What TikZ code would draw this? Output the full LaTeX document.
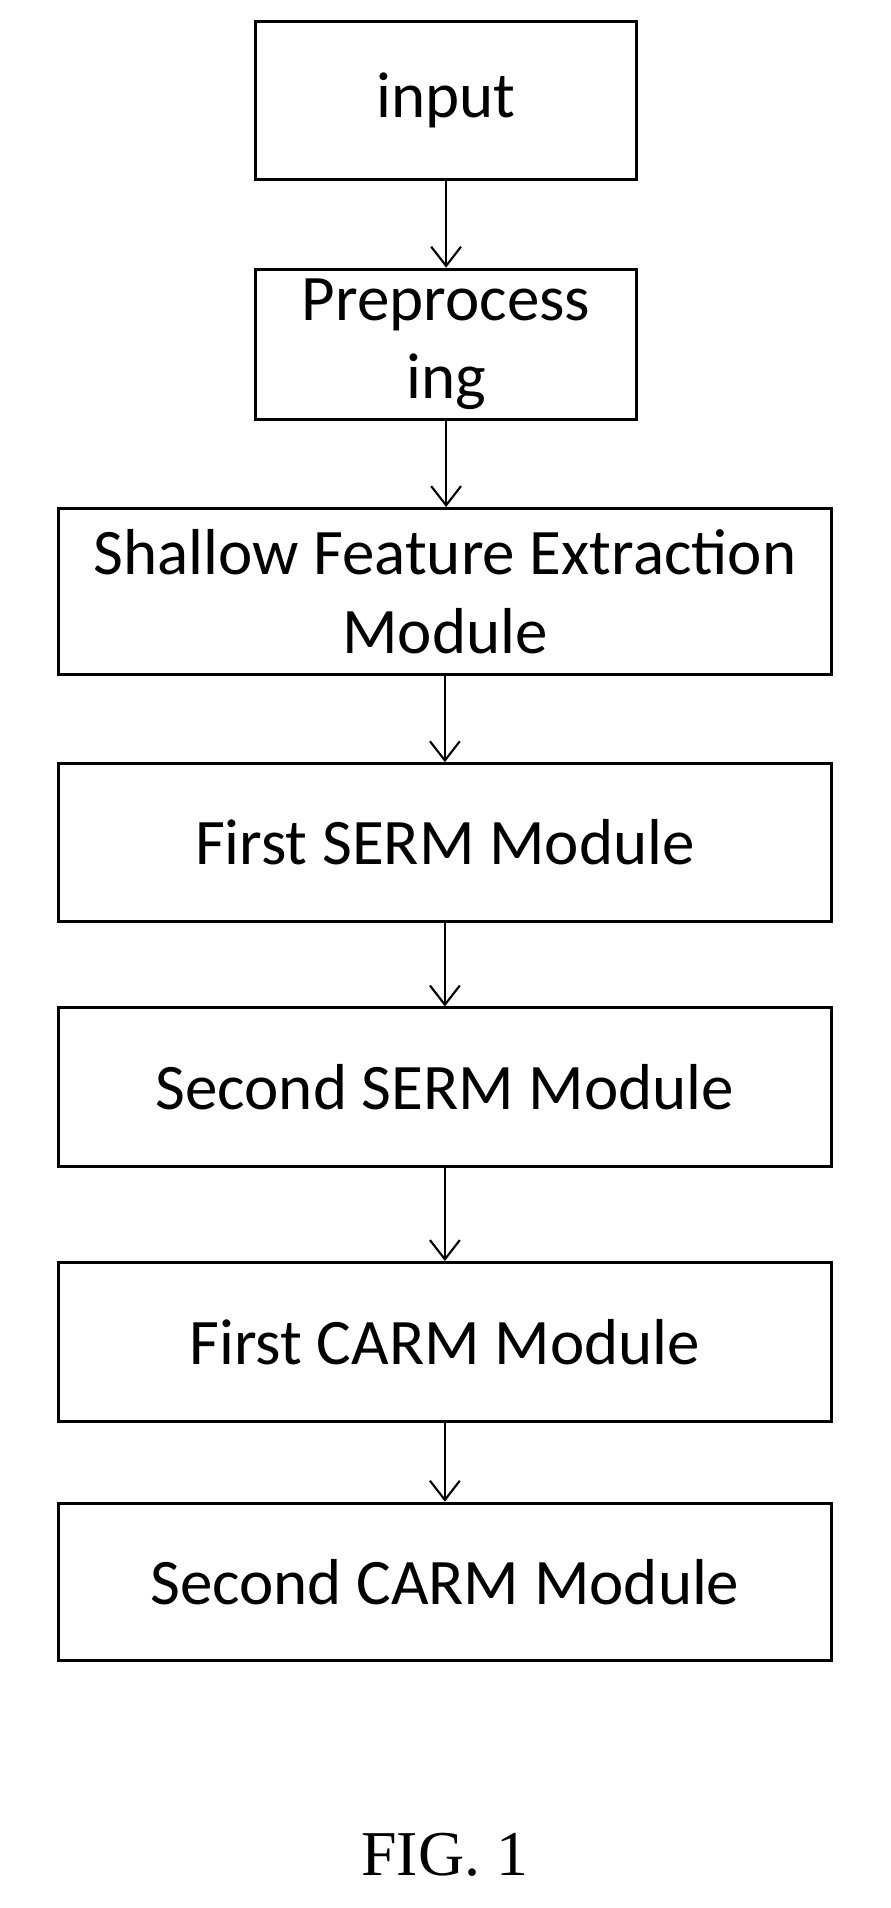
\documentclass[tikz,border=0pt]{standalone}
\usepackage{fontspec}
\setmainfont{Carlito}
\newfontfamily\figfont{Liberation Serif}
\usetikzlibrary{arrows.meta}
\begin{document}
\begin{tikzpicture}[x=0.02cm,y=-0.02cm,
  box/.style={draw,line width=1.4pt,inner sep=0pt,align=center,font=\fontsize{30.5}{37}\selectfont},
  arr/.style={line width=1pt,-{Straight Barb[length=9pt,width=14pt,line width=1pt]}}]
\useasboundingbox (0,0) rectangle (735,1574);
\node[box,minimum width=314*0.02cm,minimum height=130*0.02cm] (in) at (368,83) {input};
\node[box,minimum width=314*0.02cm,minimum height=124*0.02cm] (pre) at (368,284) {Preprocess\\ing};
\node[box,minimum width=638*0.02cm,minimum height=137*0.02cm] (sh) at (367,488) {Shallow Feature Extraction\\Module};
\node[box,minimum width=638*0.02cm,minimum height=130*0.02cm] (s1) at (367,695) {First SERM Module};
\node[box,minimum width=638*0.02cm,minimum height=131*0.02cm] (s2) at (367,897) {Second SERM Module};
\node[box,minimum width=638*0.02cm,minimum height=131*0.02cm] (c1) at (367,1107) {First CARM Module};
\node[box,minimum width=638*0.02cm,minimum height=130*0.02cm] (c2) at (367,1305) {Second CARM Module};
\node[font=\figfont\fontsize{30}{36}\selectfont] (fig) at (367,1530) {FIG. 1};
\draw[arr] (in.south) -- (pre.north);
\draw[arr] (pre.south) -- (pre.south|-sh.north);
\draw[arr] (sh.south) -- (s1.north);
\draw[arr] (s1.south) -- (s2.north);
\draw[arr] (s2.south) -- (c1.north);
\draw[arr] (c1.south) -- (c2.north);
\end{tikzpicture}
\end{document}
